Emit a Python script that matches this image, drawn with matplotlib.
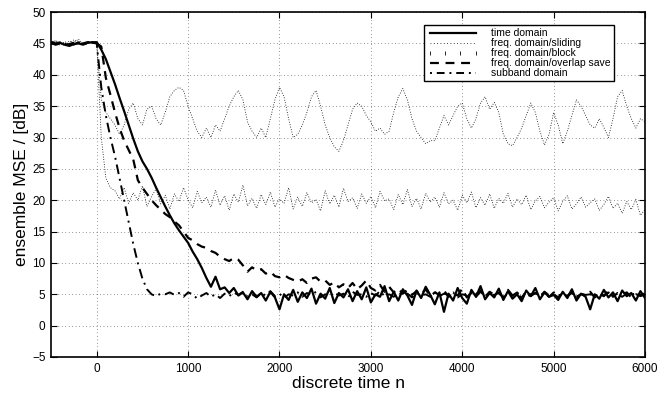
import numpy as np
import matplotlib
matplotlib.use("Agg")
import matplotlib.pyplot as plt
from matplotlib.lines import Line2D

plt.rcParams['font.family'] = ['Liberation Sans', 'DejaVu Sans']

# discrete time axis (samples every 50)
n = np.arange(-500, 6001, 50)

pre_time = [45.0, 44.9, 45.1, 44.8, 44.6, 44.9, 45.0, 44.8, 45.1, 45.2]
time_domain = pre_time + [
    45.2, 44.0, 42.5, 40.5, 38.5, 36.3, 34.2, 32.0, 29.8, 27.8,
    26.2, 25.0, 23.6, 22.0, 20.5, 19.0, 17.6, 16.3, 15.2, 14.2,
    13.2, 11.8, 10.6, 9.2, 7.6, 6.2, 7.8, 5.8, 6.1, 5.2,
    6.0, 4.8, 5.3, 4.2, 5.5, 4.6, 5.2, 4.0, 5.4, 4.5,
    2.6, 5.0, 4.1, 5.7, 3.8, 5.3, 4.4, 5.9, 3.5, 5.1,
    4.3, 6.0, 3.6, 5.2, 4.5, 5.8, 3.9, 5.5, 4.2, 6.1,
    3.7, 5.0, 4.6, 6.3, 3.9, 5.4, 4.0, 5.8, 4.8, 3.3,
    5.6, 4.4, 6.2, 4.9, 3.4, 5.3, 2.2, 5.1, 4.0, 6.0,
    4.4, 3.5, 5.7, 4.6, 6.3, 4.2, 5.2, 4.5, 5.9, 4.1,
    5.5, 4.3, 5.0, 3.9, 5.6, 4.7, 6.0, 4.2, 5.3, 4.6,
    4.9, 4.1, 5.4, 4.4, 5.8, 4.0, 5.1, 4.6, 2.6, 5.0,
    4.3, 5.7, 4.5, 5.3, 3.9, 5.6, 4.7, 5.2, 4.0, 5.5,
    4.4]

pre_sliding = [45.2, 45.4, 44.7, 45.3, 44.9, 45.6, 45.1, 44.8, 45.3, 45.0]
freq_sliding = pre_sliding + [
    45.0, 30.0, 23.5, 22.0, 21.5, 20.2, 22.0, 19.5, 21.2, 20.0,
    22.3, 19.0, 20.6, 21.8, 19.4, 20.8, 18.6, 21.0, 19.8, 22.0,
    20.1, 18.8, 21.4, 19.6, 20.5, 18.9, 21.6, 19.2, 20.7, 18.4,
    21.0, 19.7, 22.4, 19.1, 20.3, 18.7, 20.9, 19.3, 21.3, 18.9,
    20.2, 19.5, 22.0, 18.6, 20.5, 19.0, 21.2, 19.6, 20.1, 18.3,
    21.5, 19.4, 20.8, 18.9, 21.9, 19.8, 20.4, 18.7, 21.0, 19.5,
    20.6, 18.8, 21.4, 19.9, 20.2, 18.5, 20.9, 19.3, 21.7, 19.0,
    20.3, 18.6, 21.1, 19.7, 20.5, 18.9, 21.2, 19.4, 20.0, 18.4,
    20.8, 19.6, 21.3, 18.8, 20.4, 19.2, 21.0, 18.7, 20.3, 19.5,
    21.1, 18.9, 20.2, 19.3, 20.8, 18.5, 19.9, 20.6, 18.8, 19.7,
    20.4, 18.3, 19.8, 20.7, 18.6, 19.4, 20.5, 18.9, 19.6, 20.2,
    18.4, 19.3, 20.6, 18.7, 19.5, 17.9, 19.8, 18.5, 20.1, 17.6,
    18.5]

pre_block = [44.8, 45.5, 45.0, 44.6, 45.4, 45.1, 45.7, 44.9, 45.2, 45.3]
freq_block = pre_block + [
    45.0, 36.0, 34.0, 33.0, 32.0, 30.5, 32.0, 34.5, 35.5, 33.0,
    32.0, 34.5, 35.0, 33.0, 32.0, 34.0, 36.5, 37.5, 38.0, 37.5,
    35.0, 33.0, 31.0, 30.0, 31.5, 30.0, 32.0, 31.0, 33.0, 35.0,
    36.5, 37.5, 36.0, 32.5, 31.0, 30.0, 31.5, 30.0, 33.0, 36.0,
    38.0, 36.5, 33.0, 30.0, 30.5, 32.0, 34.0, 36.5, 37.5, 35.0,
    32.0, 30.0, 28.5, 27.8, 29.5, 32.0, 34.5, 35.5, 35.0, 33.5,
    32.5, 31.0, 31.5, 30.5, 31.0, 34.0, 36.5, 37.8, 36.0, 33.0,
    31.0, 30.0, 29.0, 29.5, 29.5, 31.5, 33.5, 32.0, 33.5, 35.0,
    35.5, 33.0, 31.5, 33.0, 35.5, 36.5, 34.5, 35.6, 34.0, 30.5,
    29.0, 28.7, 30.0, 31.5, 33.5, 35.5, 34.0, 31.0, 28.8, 30.5,
    34.0, 32.0, 29.0, 31.0, 33.5, 36.0, 35.0, 33.5, 32.0, 31.5,
    33.0, 31.6, 30.0, 33.0, 36.5, 37.5, 35.0, 33.0, 31.5, 33.0,
    32.5]

pre_overlap = [45.1, 44.8, 45.0, 44.7, 44.9, 45.1, 44.9, 45.0, 45.2, 45.1]
freq_overlap = pre_overlap + [
    45.0, 44.5, 39.5, 36.8, 34.0, 31.5, 29.5, 28.0, 26.5, 23.2,
    22.0, 21.0, 20.0, 19.2, 18.5, 17.8, 17.3, 16.6, 16.0, 15.0,
    14.0, 13.6, 13.0, 12.6, 12.4, 11.9, 11.6, 11.0, 10.6, 10.3,
    10.8, 10.5, 9.6, 8.6, 9.3, 8.8, 9.0, 8.3, 8.6, 7.9,
    7.7, 8.1, 7.6, 7.3, 7.0, 7.4, 6.8, 7.5, 7.7, 7.0,
    7.2, 6.5, 6.9, 6.1, 6.6, 6.0, 6.8, 5.8, 6.4, 7.2,
    6.0, 5.6, 6.5, 5.4, 6.2, 5.3, 5.9, 5.1, 5.7, 4.9,
    5.5, 5.0, 5.8, 4.7, 5.3, 4.9, 5.6, 4.6, 5.2, 4.8,
    5.9, 4.5, 5.3, 5.0, 5.6, 4.6, 5.4, 4.9, 5.2, 4.5,
    5.7, 4.8, 5.1, 4.4, 5.5, 4.9, 5.2, 4.6, 5.4, 4.8,
    5.0, 4.5, 5.3, 4.7, 5.5, 4.6, 5.0, 4.8, 5.4, 4.5,
    5.1, 4.7, 5.6, 4.6, 5.2, 4.9, 5.3, 4.5, 5.0, 4.8,
    5.2]

pre_subband = [45.3, 45.0, 45.2, 44.9, 45.1, 44.8, 45.2, 45.0, 44.9, 45.1]
subband = pre_subband + [
    45.0, 38.0, 33.5, 30.0, 27.0, 23.5, 20.0, 16.5, 13.0, 10.0,
    7.5, 5.8, 5.0, 4.7, 5.1, 5.0, 5.3, 4.9, 5.2, 4.6,
    5.3, 5.0, 4.3, 4.8, 5.2, 4.6, 5.0, 4.4, 5.1, 4.7,
    5.3, 4.9, 5.4, 4.6, 5.0, 4.5, 5.2, 4.8, 5.5, 4.7,
    5.1, 4.4, 5.0, 4.8, 5.3, 4.6, 5.2, 4.9, 5.4, 4.5,
    5.0, 4.7, 5.3, 4.8, 5.1, 4.5, 5.4, 4.9, 5.0, 4.6,
    5.2, 4.8, 5.5, 4.7, 5.0, 4.6, 5.3, 4.9, 5.1, 4.5,
    5.2, 4.8, 5.0, 4.6, 5.4, 4.7, 5.1, 4.9, 5.3, 4.5,
    5.0, 4.8, 5.2, 4.6, 5.4, 4.7, 5.0, 4.9, 5.2, 4.5,
    5.1, 4.8, 5.3, 4.6, 5.0, 4.7, 5.2, 4.9, 5.1, 4.6,
    5.3, 4.8, 5.0, 4.7, 5.2, 4.5, 5.1, 4.9, 5.0, 4.6,
    5.2, 4.8, 5.3, 4.7, 5.0, 4.6, 5.1, 4.9, 5.2, 4.7,
    5.0]

labels = ['time domain', 'freq. domain/sliding', 'freq. domain/block',
          'freq. domain/overlap save', 'subband domain']
x_ticks = [0, 1000, 2000, 3000, 4000, 5000, 6000]
y_ticks = [-5, 0, 5, 10, 15, 20, 25, 30, 35, 40, 45, 50]

fig = plt.figure(figsize=(6.61, 3.96), dpi=100)
ax = fig.add_axes([0.0772, 0.0985, 0.8986, 0.871])

ax.plot(n, freq_block, color='k', lw=0.6, linestyle=(0, (1, 2)))
ax.plot(n, freq_sliding, color='k', lw=0.6, linestyle=(0, (1, 2)))
ax.plot(n, subband, color='k', lw=1.4, linestyle=(0, (5, 2.5, 1, 2.5)))
ax.plot(n, freq_overlap, color='k', lw=1.6, linestyle=(0, (4, 3)))
ax.plot(n, time_domain, color='k', lw=1.6, linestyle='-')

ax.set_xlim(-500, 6000)
ax.set_ylim(-5, 50)
ax.set_xticks(x_ticks)
ax.set_yticks(y_ticks)
ax.tick_params(direction='in', length=4, width=0.8, top=True, right=True,
               labelsize=8.5, pad=4)
for s in ax.spines.values():
    s.set_linewidth(1.2)
ax.grid(True, color='k', lw=0.5, linestyle=(0, (1, 4)), alpha=0.8)
ax.set_axisbelow(True)

ax.set_xlabel('discrete time n', fontsize=12.5, labelpad=1)
ax.set_ylabel('ensemble MSE / [dB]', fontsize=12.5, labelpad=2)

handles = [
    Line2D([], [], color='k', lw=1.6, linestyle='-'),
    Line2D([], [], color='k', lw=0.6, linestyle=(0, (1, 3))),
    Line2D([], [], color='k', lw=0.0, linestyle='none', marker='|',
           markersize=3, markeredgewidth=0.6),
    Line2D([], [], color='k', lw=1.6, linestyle=(0, (4, 3))),
    Line2D([], [], color='k', lw=1.4, linestyle=(0, (1, 2.5, 4, 2.5))),
]
leg = ax.legend(handles, labels, loc='upper right', bbox_to_anchor=(0.948, 0.962),
                fontsize=7.5, frameon=True, fancybox=False, framealpha=1,
                edgecolor='k', borderpad=0.3, labelspacing=0.0,
                handlelength=5.0, handletextpad=1.2, borderaxespad=0.0,
                numpoints=4)
leg.get_frame().set_linewidth(1.0)

fig.savefig('out.png', dpi=100)
